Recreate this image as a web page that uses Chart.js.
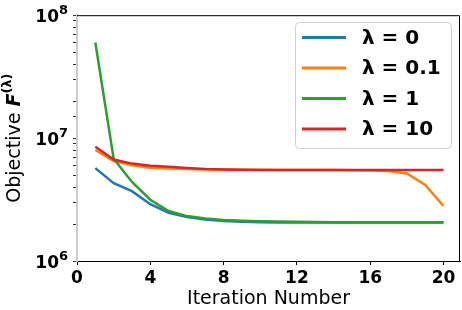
<!DOCTYPE html>
<html>
<head>
<meta charset="utf-8">
<script src="https://cdn.jsdelivr.net/npm/chart.js@4/dist/chart.umd.min.js"></script>
<style>
  html, body { margin: 0; padding: 0; background: #fff; }
  canvas { display: block; }
</style>
</head>
<body>
<canvas id="chart" width="462" height="310"></canvas>
<script>
// iterations on the x axis
const iterations = [1, 2, 3, 4, 5, 6, 7, 8, 9, 10, 11, 12, 13, 14, 15, 16, 17, 18, 19, 20];

// objective values per lambda
const lambda0 = [5.7e6, 4.3e6, 3.7e6, 2.9e6, 2.47e6, 2.28e6, 2.18e6, 2.12e6, 2.09e6, 2.07e6,
                 2.06e6, 2.06e6, 2.06e6, 2.06e6, 2.06e6, 2.06e6, 2.06e6, 2.06e6, 2.06e6, 2.06e6];
const lambda01 = [8.0e6, 6.5e6, 6.0e6, 5.75e6, 5.65e6, 5.6e6, 5.55e6, 5.54e6, 5.53e6, 5.52e6,
                  5.51e6, 5.5e6, 5.5e6, 5.5e6, 5.48e6, 5.45e6, 5.4e6, 5.15e6, 4.15e6, 2.8e6];
const lambda1 = [6.0e7, 6.8e6, 4.4e6, 3.15e6, 2.55e6, 2.32e6, 2.22e6, 2.16e6, 2.13e6, 2.11e6,
                 2.1e6, 2.09e6, 2.08e6, 2.07e6, 2.07e6, 2.07e6, 2.07e6, 2.07e6, 2.07e6, 2.07e6];
const lambda10 = [8.5e6, 6.7e6, 6.2e6, 5.95e6, 5.85e6, 5.72e6, 5.6e6, 5.55e6, 5.52e6, 5.5e6,
                  5.5e6, 5.5e6, 5.5e6, 5.5e6, 5.5e6, 5.5e6, 5.5e6, 5.5e6, 5.5e6, 5.5e6];

const seriesLabels = ['λ = 0', 'λ = 0.1', 'λ = 1', 'λ = 10'];
const seriesColors = ['#1f77b4', '#ff7f0e', '#2ca02c', '#d62728'];
const seriesData = [lambda0, lambda01, lambda1, lambda10];

const xTicks = [0, 4, 8, 12, 16, 20];
const yExponents = [6, 7, 8];

const FONT = '"DejaVu Sans", sans-serif';

// y axis title with mixed fonts: "Objective F^(λ)"
const yTitlePlugin = {
    id: 'yTitle',
    afterDraw(chart) {
        const { ctx, chartArea } = chart;
        const cy = (chartArea.top + chartArea.bottom) / 2;
        const parts = [
            { text: 'Objective ', font: '19px ' + FONT, dy: 0 },
            { text: 'F', font: 'italic bold 19px ' + FONT, dy: 0 },
            { text: '(λ)', font: 'bold 13px ' + FONT, dy: -9 }
        ];
        ctx.save();
        let total = 0;
        parts.forEach(p => { ctx.font = p.font; p.w = ctx.measureText(p.text).width; total += p.w; });
        ctx.translate(20, cy);
        ctx.rotate(-Math.PI / 2);
        ctx.fillStyle = '#000';
        ctx.textBaseline = 'alphabetic';
        ctx.textAlign = 'left';
        let x = -total / 2;
        parts.forEach(p => {
            ctx.font = p.font;
            ctx.fillText(p.text, x, p.dy);
            x += p.w;
        });
        ctx.restore();
    }
};

// y tick labels 10^n drawn with a real superscript
const yLabelPlugin = {
    id: 'yLabels',
    afterDraw(chart) {
        const { ctx } = chart;
        const ys = chart.scales.y;
        ctx.save();
        ctx.fillStyle = '#000';
        ctx.textBaseline = 'alphabetic';
        ctx.textAlign = 'right';
        yExponents.forEach(e => {
            const y = ys.getPixelForValue(Math.pow(10, e));
            const right = 68;
            ctx.font = 'bold 13px ' + FONT;
            const ew = ctx.measureText(String(e)).width;
            ctx.fillText(String(e), right, y - 1);
            ctx.font = 'bold 17px ' + FONT;
            ctx.fillText('10', right - ew, y + 7);
        });
        ctx.restore();
    }
};

// top / right spines and the legend box inside the plot
const framePlugin = {
    id: 'frame',
    afterDraw(chart) {
        const { ctx, chartArea } = chart;
        ctx.save();
        ctx.strokeStyle = '#000';
        ctx.lineWidth = 1;
        ctx.beginPath();
        ctx.moveTo(chartArea.left, chartArea.top + 0.5);
        ctx.lineTo(chartArea.right - 0.5, chartArea.top + 0.5);
        ctx.lineTo(chartArea.right - 0.5, chartArea.bottom);
        ctx.stroke();

        // legend
        const bx = 295, by = 22, bw = 156, bh = 126;
        ctx.fillStyle = 'rgba(255,255,255,0.8)';
        ctx.strokeStyle = '#d0d0d0';
        ctx.beginPath();
        ctx.roundRect(bx + 0.5, by + 0.5, bw, bh, 4);
        ctx.fill();
        ctx.stroke();
        ctx.font = 'bold 20px ' + FONT;
        ctx.textBaseline = 'middle';
        chart.data.datasets.forEach((ds, i) => {
            const y = 37.5 + i * 30.5;
            ctx.strokeStyle = ds.borderColor;
            ctx.lineWidth = 3;
            ctx.beginPath();
            ctx.moveTo(302, y);
            ctx.lineTo(346, y);
            ctx.stroke();
            ctx.fillStyle = '#000';
            ctx.fillText(ds.label, 362, y + 1);
        });
        ctx.restore();
    }
};

const datasets = seriesData.map((values, i) => ({
    label: seriesLabels[i],
    data: values.map((v, j) => ({ x: iterations[j], y: v })),
    borderColor: seriesColors[i],
    backgroundColor: seriesColors[i],
    borderWidth: 2.5,
    pointRadius: 0,
    tension: 0,
    order: seriesData.length - i
}));

new Chart(document.getElementById('chart'), {
    type: 'line',
    data: { datasets: datasets },
    options: {
        responsive: false,
        animation: false,
        layout: { padding: { top: 10, right: 2, left: 0, bottom: 0 } },
        plugins: {
            legend: { display: false },
            tooltip: { enabled: false }
        },
        scales: {
            x: {
                type: 'linear',
                min: 0,
                max: 20.9,
                afterFit: s => { s.height = 49; },
                afterBuildTicks: s => { s.ticks = xTicks.map(v => ({ value: v })); },
                ticks: {
                    font: { family: FONT, size: 17, weight: 'bold' },
                    color: '#000',
                    padding: 3,
                    maxRotation: 0
                },
                grid: { drawOnChartArea: false, tickLength: 4, color: '#000' },
                border: { color: '#000', width: 1 },
                title: {
                    display: true,
                    text: 'Iteration Number',
                    font: { family: FONT, size: 19 },
                    color: '#000',
                    padding: { top: 0, bottom: 0 }
                }
            },
            y: {
                type: 'logarithmic',
                min: 1e6,
                max: 1e8,
                afterFit: s => { s.width = 77; },
                ticks: {
                    autoSkip: false,
                    font: { family: FONT, size: 17, weight: 'bold' },
                    color: '#000',
                    padding: 5,
                    callback: () => ''
                },
                grid: { drawOnChartArea: false, tickLength: 4, color: '#333' },
                border: { color: '#cccccc', width: 2 }
            }
        }
    },
    plugins: [yTitlePlugin, yLabelPlugin, framePlugin]
});
</script>
</body>
</html>
